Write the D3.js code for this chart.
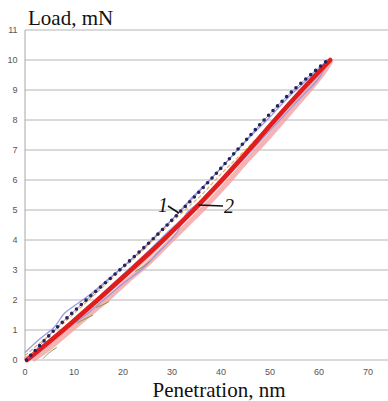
<!DOCTYPE html>
<html>
<head>
<meta charset="utf-8">
<script src="https://cdn.jsdelivr.net/npm/d3@7"></script>
<style>
  body { margin: 0; background: #fff; }
  svg { display: block; }
</style>
</head>
<body>
<svg id="chart" width="388" height="401"></svg>
<script>
// load (mN) values shared by the main curves
const loads = [0, 1, 2, 3, 4, 5, 6, 7, 8, 9, 10];
// curve 1 (dotted) penetration, nm
const curve1 = [0.3, 6, 12.5, 19.3, 25.9, 32, 37.8, 43.3, 48.8, 54.8, 61.8];
// curve 2 (thick red) penetration, nm
const curve2 = [0.4, 7.8, 14.8, 21.6, 28.2, 34.4, 40.2, 45.7, 51, 56.5, 62.3];

// individual noisy measurements around the averaged curves: [penetration, load]
const pinkRuns = [
  [[0, 0], [4, 0.45], [8, 1.0], [12, 1.6], [16, 2.15], [20, 2.75], [24, 3.3], [28, 3.95], [32, 4.6], [36, 5.25], [40, 5.95], [44, 6.7], [48, 7.4], [52, 8.15], [56, 8.85], [60, 9.6], [62, 10]],
  [[1.5, 0], [5, 0.4], [9, 0.95], [13, 1.5], [17, 2.05], [21, 2.65], [25, 3.2], [29, 3.85], [33, 4.5], [37, 5.15], [41, 5.85], [45, 6.6], [49, 7.3], [53, 8.05], [57, 8.8], [61, 9.6], [62.5, 10]]
];
const purpleRuns = [
  [[0, 0.25], [3, 0.7], [6, 1.1], [8, 1.55], [10, 1.8], [13, 2.15], [17, 2.7], [21, 3.25], [24, 3.7], [27, 4.2], [31, 4.85], [34, 5.4], [38, 6.05], [42, 6.75], [46, 7.45], [50, 8.1], [54, 8.8], [58, 9.4], [62, 10]],
  [[1, 0.15], [4.5, 0.6], [8, 1.0], [12, 1.45], [16, 2.0], [20, 2.55], [24, 3.05], [27, 3.55], [31, 4.25], [33, 4.9], [36, 5.3], [40, 5.95], [44, 6.6], [48, 7.3], [52, 8.0], [56, 8.7], [60, 9.4], [62, 10]]
];
const blueRun = [[1, 0], [5, 0.55], [9, 1.15], [13, 1.75], [17, 2.4], [21, 3.0], [25, 3.6], [29, 4.25], [33, 4.85], [37, 5.5], [41, 6.2], [45, 6.9], [49, 7.65], [53, 8.35], [57, 9.05], [61, 9.75], [62, 10]];
const orangeRun = [[0, 0.15], [4, 0.7], [8, 1.25], [12, 1.85], [16, 2.45], [20, 3.05], [24, 3.65], [28, 4.3], [32, 4.9], [36, 5.5], [40, 6.2], [44, 6.85], [48, 7.5], [52, 8.2], [56, 8.9], [60, 9.6], [62, 10]];
const greenRuns = [
  [[3.7, 0.05], [5, 0.25], [6.5, 0.42]],
  [[10.6, 1.23], [12, 1.35], [13.9, 1.5]],
  [[14.5, 1.75], [16, 1.85], [17.2, 1.95]],
  [[22.5, 2.95], [24, 3.1], [25.5, 3.3]]
];

const xTicks = [0, 10, 20, 30, 40, 50, 60, 70];
const yTicks = [0, 1, 2, 3, 4, 5, 6, 7, 8, 9, 10, 11];

const svg = d3.select('#chart');

const x = d3.scaleLinear().domain([0, 74]).range([25, 387.6]);
const y = d3.scaleLinear().domain([0, 11]).range([360, 30]);

// grid
svg.append('g')
  .selectAll('line')
  .data(yTicks)
  .enter().append('line')
  .attr('x1', x(0))
  .attr('x2', 388)
  .attr('y1', d => y(d))
  .attr('y2', d => y(d))
  .attr('stroke', '#b4b4b4')
  .attr('stroke-width', 1);

svg.append('line')
  .attr('x1', x(0)).attr('x2', x(0))
  .attr('y1', y(11)).attr('y2', y(0))
  .attr('stroke', '#a8a8a8');

// tick labels
svg.append('g')
  .selectAll('text')
  .data(yTicks)
  .enter().append('text')
  .attr('x', 17.5)
  .attr('y', d => y(d) + 3)
  .attr('text-anchor', 'end')
  .attr('font-family', 'Liberation Sans, Arial, sans-serif')
  .attr('font-size', '9px')
  .attr('fill', '#555')
  .text(d => d);

svg.append('g')
  .selectAll('text')
  .data(xTicks)
  .enter().append('text')
  .attr('x', d => x(d))
  .attr('y', 375)
  .attr('text-anchor', 'middle')
  .attr('font-family', 'Liberation Sans, Arial, sans-serif')
  .attr('font-size', '9px')
  .attr('fill', '#555')
  .text(d => d);

// axis titles
svg.append('text')
  .attr('x', 28)
  .attr('y', 25)
  .attr('font-family', 'Liberation Serif, Times New Roman, serif')
  .attr('font-size', '21px')
  .attr('fill', '#111')
  .text('Load, mN');

svg.append('text')
  .attr('x', 219)
  .attr('y', 397)
  .attr('text-anchor', 'middle')
  .attr('font-family', 'Liberation Serif, Times New Roman, serif')
  .attr('font-size', '21px')
  .attr('fill', '#111')
  .text('Penetration, nm');

const line = d3.line()
  .x(d => x(d[0]))
  .y(d => y(d[1]))
  .curve(d3.curveCatmullRom);

const plot = svg.append('g');

plot.selectAll('.pink')
  .data(pinkRuns)
  .enter().append('path')
  .attr('d', line)
  .attr('fill', 'none')
  .attr('stroke', '#f2a0a0')
  .attr('stroke-opacity', 0.8)
  .attr('stroke-width', 5);

plot.selectAll('.purple')
  .data(purpleRuns)
  .enter().append('path')
  .attr('d', line)
  .attr('fill', 'none')
  .attr('stroke', '#9a9ae0')
  .attr('stroke-width', 1.3);

plot.append('path')
  .attr('d', line(blueRun))
  .attr('fill', 'none')
  .attr('stroke', '#a8c0f0')
  .attr('stroke-width', 1.3);

plot.append('path')
  .attr('d', line(orangeRun))
  .attr('fill', 'none')
  .attr('stroke', '#e8b070')
  .attr('stroke-width', 1.2)
  .attr('stroke-dasharray', '4,2');

plot.selectAll('.green')
  .data(greenRuns)
  .enter().append('path')
  .attr('d', line)
  .attr('fill', 'none')
  .attr('stroke', '#7a9a30')
  .attr('stroke-width', 1);

// curve 2 - thick red
const c2 = loads.map((l, i) => [curve2[i], l]);
plot.append('path')
  .attr('d', line(c2))
  .attr('fill', 'none')
  .attr('stroke', '#e01c1c')
  .attr('stroke-width', 4.5)
  .attr('stroke-linecap', 'round');

// curve 1 - dotted navy
const c1 = loads.map((l, i) => [curve1[i], l]);
plot.append('path')
  .attr('d', line(c1))
  .attr('fill', 'none')
  .attr('stroke', '#8a8ab8')
  .attr('stroke-width', 1);
plot.append('path')
  .attr('d', line(c1))
  .attr('fill', 'none')
  .attr('stroke', '#23235e')
  .attr('stroke-width', 3.6)
  .attr('stroke-linecap', 'round')
  .attr('stroke-dasharray', '0,6.5');

// curve labels with leaders
const labels = [
  { text: '1', lx: 163, ly: 212, x1: 168, y1: 206, x2: x(31.4), y2: y(4.9) },
  { text: '2', lx: 229, ly: 213, x1: 223, y1: 206, x2: x(35.4), y2: y(5.17) }
];
labels.forEach(l => {
  svg.append('line')
    .attr('x1', l.x1).attr('y1', l.y1)
    .attr('x2', l.x2).attr('y2', l.y2)
    .attr('stroke', '#111')
    .attr('stroke-width', 1.5);
  svg.append('text')
    .attr('x', l.lx)
    .attr('y', l.ly)
    .attr('text-anchor', 'middle')
    .attr('font-family', 'Liberation Serif, Times New Roman, serif')
    .attr('font-style', 'italic')
    .attr('font-size', '20px')
    .attr('fill', '#111')
    .text(l.text);
});
</script>
</body>
</html>
